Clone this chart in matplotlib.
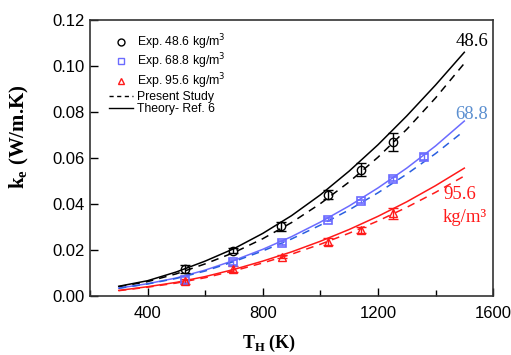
import matplotlib
matplotlib.use("Agg")
import matplotlib.pyplot as plt
from matplotlib.ticker import MultipleLocator, FormatStrFormatter

# ------- data -------
T_curve = [300, 400, 500, 600, 700, 800, 900, 1000, 1100, 1200, 1300, 1400, 1500]

theory_486 = [0.0044, 0.0068, 0.0106, 0.0153, 0.0207, 0.0273, 0.0350, 0.0440, 0.0543, 0.0657, 0.0782, 0.0916, 0.1058]
present_486 = [0.0042, 0.0064, 0.0098, 0.0141, 0.0190, 0.0250, 0.0320, 0.0402, 0.0496, 0.0603, 0.0724, 0.0860, 0.1010]
theory_688 = [0.0036, 0.0055, 0.0080, 0.0114, 0.0156, 0.0204, 0.0259, 0.0322, 0.0392, 0.0470, 0.0556, 0.0652, 0.0760]
present_688 = [0.0035, 0.0054, 0.0078, 0.0110, 0.0151, 0.0197, 0.0249, 0.0309, 0.0375, 0.0449, 0.0530, 0.0619, 0.0718]
theory_956 = [0.0026, 0.0042, 0.0061, 0.0086, 0.0117, 0.0153, 0.0193, 0.0239, 0.0290, 0.0347, 0.0410, 0.0480, 0.0556]
present_956 = [0.0025, 0.0040, 0.0058, 0.0081, 0.0111, 0.0145, 0.0183, 0.0226, 0.0274, 0.0327, 0.0386, 0.0451, 0.0522]

T_exp_486 = [530, 697, 862, 1028, 1141, 1251]
k_exp_486 = [0.0118, 0.0198, 0.0304, 0.0441, 0.0550, 0.0669]
err_486 = [0.0017, 0.0010, 0.0020, 0.0020, 0.0028, 0.0040]

T_exp_688 = [530, 697, 866, 1028, 1141, 1251, 1360]
k_exp_688 = [0.0072, 0.0148, 0.0231, 0.0333, 0.0412, 0.0510, 0.0605]
err_688 = [0.0012, 0.0012, 0.0008, 0.0008, 0.0008, 0.0008, 0.0012]

T_exp_956 = [530, 697, 866, 1028, 1141, 1251]
k_exp_956 = [0.0065, 0.0118, 0.0173, 0.0238, 0.0289, 0.0360]
err_956 = [0.0012, 0.0012, 0.0008, 0.0015, 0.0012, 0.0025]

# ------- figure -------
plt.rcParams['font.family'] = ['Liberation Sans', 'DejaVu Sans']
fig = plt.figure(figsize=(5.11, 3.55), dpi=100)
ax = fig.add_axes([0.176, 0.165, 0.789, 0.78])

blue_light = '#6b6bff'
blue_dark = '#2a5fe0'
red = '#ff1a1a'

# theory (solid) and present study (dashed)
ax.plot(T_curve, theory_486, color='black', lw=1.1)
ax.plot(T_curve, present_486, color='black', lw=1.1, ls=(0, (5, 4)))
ax.plot(T_curve, theory_688, color=blue_light, lw=1.1)
ax.plot(T_curve, present_688, color=blue_dark, lw=1.1, ls=(0, (5, 4)))
ax.plot(T_curve, theory_956, color=red, lw=1.1)
ax.plot(T_curve, present_956, color=red, lw=1.1, ls=(0, (5, 4)))

# experiments
ax.errorbar(T_exp_486, k_exp_486, yerr=err_486, fmt='o', ms=6, mfc='none', mec='black',
            ecolor='black', elinewidth=1, capsize=3.5, mew=1)
ax.errorbar(T_exp_688, k_exp_688, yerr=err_688, fmt='s', ms=5.5, mfc='none', mec=blue_light,
            ecolor=blue_light, elinewidth=1, capsize=3, mew=1.2)
ax.errorbar(T_exp_956, k_exp_956, yerr=err_956, fmt='^', ms=6, mfc='none', mec=red,
            ecolor=red, elinewidth=1, capsize=3.5, mew=1)

# legend handles
h1, = ax.plot([], [], 'o', ms=5, mfc='none', mec='black', label='Exp. 48.6 kg/m$^3$')
h2, = ax.plot([], [], 's', ms=5, mfc='none', mec=blue_light, label='Exp. 68.8 kg/m$^3$')
h3, = ax.plot([], [], '^', ms=5, mfc='none', mec=red, label='Exp. 95.6 kg/m$^3$')
h4, = ax.plot([], [], color='black', lw=1, ls=(0, (3, 2.5)), label='Present Study')
h5, = ax.plot([], [], color='black', lw=1, label='Theory- Ref. 6')
ax.legend(handles=[h1, h2, h3, h4, h5], loc='upper left', bbox_to_anchor=(0.025, 0.985),
          frameon=False, fontsize=8.8, handlelength=2.0, handletextpad=0.3,
          labelspacing=0.0, borderpad=0.2)

# curve labels
serif = 'Liberation Serif'
ax.text(1525, 0.1105, '48.6', family=serif, fontsize=13.5, color='black', ha='center', va='center')
ax.text(1527, 0.0790, '68.8', family=serif, fontsize=13.5, color='#5b8fd0', ha='center', va='center')
ax.text(1426, 0.0441, '95.6', family=serif, fontsize=13.5, color=red, ha='left', va='center')
ax.text(1426, 0.0342, 'kg/m\u00b3', family=serif, fontsize=13.5, color=red, ha='left', va='center')

# axes
ax.set_xlim(200, 1600)
ax.set_ylim(0, 0.12)
ax.xaxis.set_major_locator(MultipleLocator(400))
ax.xaxis.set_minor_locator(MultipleLocator(200))
ax.yaxis.set_major_locator(MultipleLocator(0.02))
ax.yaxis.set_major_formatter(FormatStrFormatter('%.2f'))
ax.tick_params(axis='both', which='both', direction='in', labelsize=12, top=False, right=False)
ax.tick_params(axis='both', which='major', length=6, width=1)
ax.tick_params(axis='x', which='major', pad=7)
ax.tick_params(axis='x', which='minor', length=4, width=1)
for s in ax.spines.values():
    s.set_linewidth(1.2)
    s.set_color('#333333')
ax.set_xticks([400, 800, 1200, 1600])

xl = ax.set_xlabel('T$_\\mathregular{H}$ (K)', family=serif, fontweight='bold', fontsize=13)
ax.xaxis.set_label_coords(0.444, -0.17)
xl.set_va('center')
yl = ax.set_ylabel('k$_\\mathregular{e}$ (W/m.K)', family=serif, fontweight='bold', fontsize=15)
ax.yaxis.set_label_coords(-0.174, 0.576)
yl.set_va('center')

fig.savefig('out.png', dpi=100)
